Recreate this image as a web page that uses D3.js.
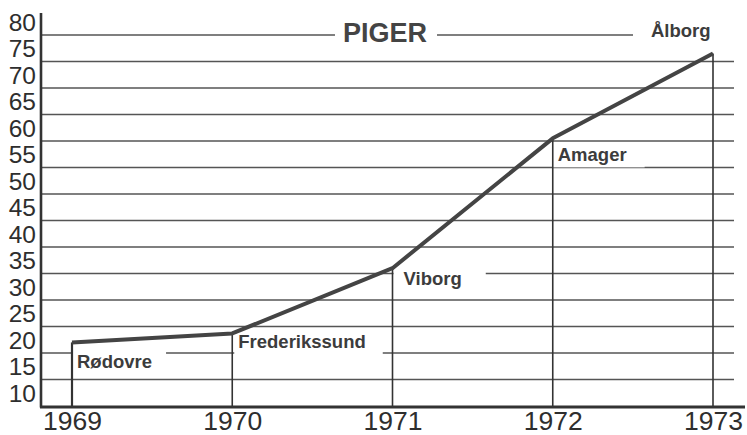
<!DOCTYPE html>
<meta charset="utf-8">
<style>
  body { margin: 0; background: white; }
  svg { background-color: white; }
  .lbl { font-family: "Liberation Sans", Arial, sans-serif; font-weight: bold; fill: #3c3c3c; }
  .axis text { font-family: "Liberation Sans", Arial, sans-serif; fill: #2e2e2e; }
</style>
<div id="chart"></div>
<script src="https://d3js.org/d3.v7.min.js"></script>
<script>
  // data
  var years = [1969, 1970, 1971, 1972, 1973];
  var values = [22, 23.7, 36, 60.5, 76.5];
  var places = ["Rødovre", "Frederikssund", "Viborg", "Amager", "Ålborg"];
  var yTicks = [10, 15, 20, 25, 30, 35, 40, 45, 50, 55, 60, 65, 70, 75, 80];
  var title = "PIGER";

  // label placement relative to the point (layout only)
  var labelDx = [5, 6, 11, 5, -62];
  var labelDy = [26, 15, 17, 23, -17];
  var padL = [5, 4, 10, 5, 18];
  var padR = [14, 17, 24, 18, 30];

  var width = 747, height = 435;

  var x = d3.scaleLinear().domain([1969, 1973]).range([72, 713]);
  var y = d3.scaleLinear().domain([10, 80]).range([406, 35]);

  var svg = d3.select("#chart").append("svg")
    .attr("width", width)
    .attr("height", height);

  // grid lines (10 is the axis itself)
  svg.append("g").selectAll("line")
    .data(yTicks.filter(function(d) { return d > 10; }))
    .enter().append("line")
    .attr("x1", 42).attr("x2", 734)
    .attr("y1", function(d) { return y(d); })
    .attr("y2", function(d) { return y(d); })
    .attr("stroke", "#555")
    .attr("stroke-width", 1.3);

  var bgLayer = svg.append("g");
  var dropLayer = svg.append("g");
  var axisLayer = svg.append("g");
  var lineLayer = svg.append("g");
  var textLayer = svg.append("g");

  // drop lines
  dropLayer.selectAll("line")
    .data(years)
    .enter().append("line")
    .attr("x1", function(d) { return x(d); })
    .attr("x2", function(d) { return x(d); })
    .attr("y1", function(d, i) { return y(values[i]); })
    .attr("y2", y(10))
    .attr("stroke", "#333")
    .attr("stroke-width", function(d, i) { return i == 0 ? 2.2 : 1.6; });

  // axes lines
  axisLayer.append("line")
    .attr("x1", 41).attr("x2", 41)
    .attr("y1", 13).attr("y2", y(10) + 1.5)
    .attr("stroke", "#333").attr("stroke-width", 2.6);
  axisLayer.append("line")
    .attr("x1", 40).attr("x2", 745)
    .attr("y1", y(10) + 1).attr("y2", y(10) + 1)
    .attr("stroke", "#333").attr("stroke-width", 2.8);

  var yAxis = axisLayer.append("g")
    .attr("class", "axis")
    .attr("transform", "translate(37,0)")
    .call(d3.axisLeft(y).tickValues(yTicks).tickSize(0).tickPadding(1));
  yAxis.select(".domain").remove();
  yAxis.selectAll("text")
    .attr("dy", "-0.2em")
    .style("font-size", "24.5px");

  var xAxis = axisLayer.append("g")
    .attr("class", "axis")
    .attr("transform", "translate(0," + (y(10) + 1) + ")")
    .call(d3.axisBottom(x).tickValues(years).tickFormat(d3.format("d")).tickSize(0).tickPadding(4));
  xAxis.select(".domain").remove();
  xAxis.selectAll("text")
    .style("font-size", "26.5px");

  // data line
  var line = d3.line()
    .x(function(d, i) { return x(years[i]); })
    .y(function(d) { return y(d); });

  lineLayer.append("path")
    .datum(values)
    .attr("d", line)
    .attr("fill", "none")
    .attr("stroke", "#444")
    .attr("stroke-width", 4)
    .attr("stroke-linejoin", "round");

  // place labels
  var labels = textLayer.selectAll("text.place")
    .data(places)
    .enter().append("text")
    .attr("class", "lbl place")
    .attr("x", function(d, i) { return x(years[i]) + labelDx[i]; })
    .attr("y", function(d, i) { return y(values[i]) + labelDy[i]; })
    .style("font-size", "18.5px")
    .text(function(d) { return d; });

  labels.each(function(d, i) {
    var b = this.getBBox();
    bgLayer.append("rect")
      .attr("x", b.x - padL[i])
      .attr("y", b.y - 2)
      .attr("width", b.width + padL[i] + padR[i])
      .attr("height", b.height + 4)
      .attr("fill", "white");
  });

  // title
  var t = textLayer.append("text")
    .attr("class", "lbl")
    .attr("x", 385)
    .attr("y", y(80) + 7)
    .attr("text-anchor", "middle")
    .style("font-size", "27px")
    .style("fill", "#444")
    .text(title);
  var tb = t.node().getBBox();
  bgLayer.append("rect")
    .attr("x", tb.x - 8).attr("y", tb.y)
    .attr("width", tb.width + 18).attr("height", tb.height)
    .attr("fill", "white");
</script>
